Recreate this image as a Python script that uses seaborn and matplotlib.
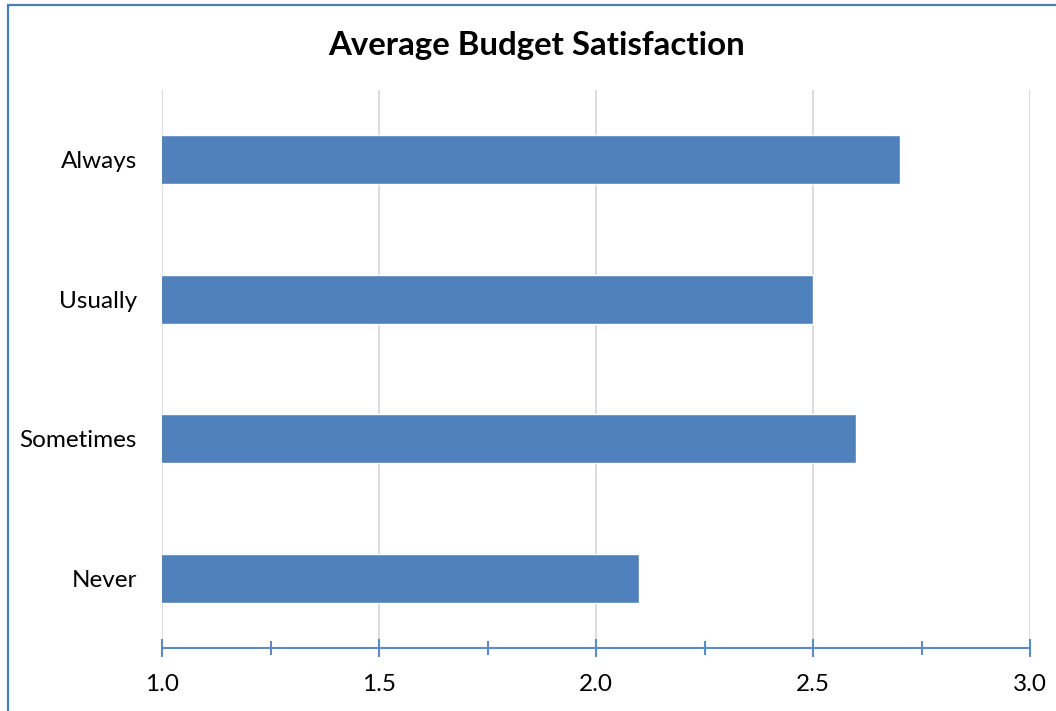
import matplotlib
matplotlib.use("Agg")
import matplotlib.pyplot as plt
from matplotlib.patches import Rectangle
from matplotlib.ticker import MultipleLocator
import seaborn as sns
import pandas as pd

categories = ["Always", "Usually", "Sometimes", "Never"]
satisfaction = [2.7, 2.5, 2.6, 2.1]
x_ticks = [1.0, 1.5, 2.0, 2.5, 3.0]
x_tick_labels = ["1.0", "1.5", "2.0", "2.5", "3.0"]
title = "Average Budget Satisfaction"

bar_color = "#4F81BD"
axis_color = "#5B8BC9"
grid_color = "#D9D9D9"

sns.set_theme(style="white")
plt.rcParams["font.family"] = ["Lato", "DejaVu Sans"]

df = pd.DataFrame({"category": categories, "value": satisfaction})

fig = plt.figure(figsize=(10.56, 7.11), dpi=100)
ax = fig.add_axes([162 / 1056, 1 - 648 / 711, (1030 - 162) / 1056, (648 - 90) / 711])

sns.barplot(data=df, x="value", y="category", order=categories, orient="h",
            color=bar_color, saturation=1, width=0.35, ax=ax, zorder=3)

ax.set_xlim(1.0, 3.0)
ax.set_ylim(3.5, -0.5)
ax.set_xlabel("")
ax.set_ylabel("")

# vertical gridlines at the labelled values
ax.set_xticks(x_ticks)
ax.set_xticklabels(x_tick_labels)
ax.xaxis.set_minor_locator(MultipleLocator(0.25))
ax.grid(axis="x", which="major", color=grid_color, linewidth=1.3, zorder=0)
ax.grid(axis="y", visible=False)
ax.set_axisbelow(True)

for side in ("top", "right", "left"):
    ax.spines[side].set_visible(False)
ax.spines["bottom"].set_color(axis_color)
ax.spines["bottom"].set_linewidth(1.5)
ax.spines["bottom"].set_zorder(4)

ax.tick_params(axis="x", which="both", bottom=True)
ax.tick_params(axis="x", which="major", direction="inout", length=13, width=1.5,
               color=axis_color, pad=12, labelsize=17.5, labelcolor="black")
ax.tick_params(axis="x", which="minor", direction="inout", length=9.5, width=1.5,
               color=axis_color)
ax.tick_params(axis="y", left=False, length=0, pad=18, labelsize=17.5, labelcolor="black")

fig.text(537 / 1056, 1 - 45 / 711, title, ha="center", va="center",
         fontsize=23.8, fontweight="bold", color="black")

# chart-area frame
fig.patches.append(Rectangle((8 / 1056, -0.1), 1.2, 1 - 5 / 711 + 0.1,
                             transform=fig.transFigure, fill=False,
                             edgecolor="#4A7EBB", linewidth=1.6, clip_on=False))

fig.savefig("out.png", dpi=100)
